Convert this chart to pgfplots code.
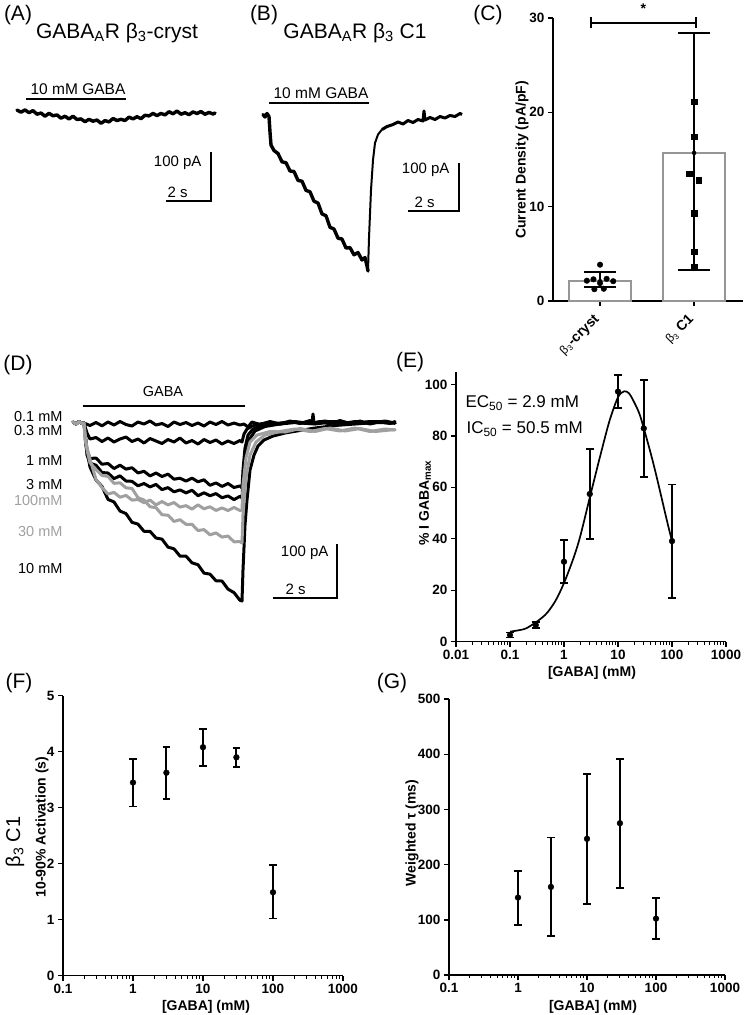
\documentclass[border=0pt]{standalone}
\usepackage{pgfplots}
\pgfplotsset{compat=1.18}
\usepackage{fontspec}
\setmainfont{Liberation Sans}
\definecolor{trgray}{RGB}{160,160,160}
\definecolor{bargray}{RGB}{150,150,150}
\newcommand{\fs}[1]{\fontsize{#1}{#1}\selectfont}

\pgfplotsset{
  gp/.style={
    scale only axis, axis lines=left,
    axis line style={-, line width=1.5pt},
    tick align=outside, major tick length=5pt, minor tick length=3pt,
    major tick style={black, line width=1.4pt},
    minor tick style={black, line width=0.9pt},
    ticklabel style={font=\fs{13.5}\bfseries},
    /pgf/number format/assume math mode=true,
    clip=false,
  },
  logx/.style={
    xtick={0.1,1,10,100,1000}, xticklabels={0.1,1,10,100,1000},
    xmin=0.1, xmax=1000,
  },
  pts/.style={
    only marks, mark=*, mark size=2.9pt, black,
    error bars/.cd, y dir=both, y explicit,
    error bar style={line width=1.8pt},
    error mark options={rotate=90, mark size=3.8pt, line width=1.8pt},
  },
  canvas/.style={
    scale only axis, hide axis, clip=false,
    width=745pt, height=1015pt,
    xmin=0, xmax=745, ymin=0, ymax=1015, y dir=reverse,
  },
  trace/.style={line width=3.4pt, line join=round, line cap=round},
  dtrace/.style={line width=3pt, line join=round, line cap=round},
}

\begin{document}
\begin{tikzpicture}[x=1pt,y=1pt]
\useasboundingbox (0,0) rectangle (745,-1015);

% ---------- traces, scale bars and free text (pixel coordinates) ----------
\begin{axis}[canvas, at={(0pt,0pt)}, anchor=north west]
% (A) beta3-cryst
\addplot[black, trace] coordinates {
(17,110) (21,112.2) (25,109.9) (29,112.7) (33,110.6) (37,114.2) (41,113.0) (45,116.2)
(49,113.3) (53,115.8) (57,114.9) (61,118.2) (65,116.2) (69,119.0) (73,116.2) (77,119.5)
(81,118.9) (85,121.7) (89,119.3) (93,121.2) (97,120.0) (101,123.3) (105,120.6) (109,121.9)
(113,118.5) (117,120.5) (121,119.3) (125,120.5) (129,117.1) (133,118.9) (137,116.7) (141,118.7)
(145,115.2) (149,115.9) (153,113.4) (157,115.6) (161,113.4) (165,114.9) (169,111.7) (173,113.8)
(177,111.0) (181,114.2) (185,112.7) (189,114.7) (193,111.9) (197,113.5) (201,111.5) (205,114.3)
(209,112.4) (213,114.0) (215,113)
};
\addplot[black, line width=1.5pt] coordinates {(26,99) (126,99)};
\addplot[black, line width=1.5pt] coordinates {(166,201) (211,201) (211,152)};

% (B) beta3 C1
\addplot[black, trace] coordinates {
(263,114.5) (265,117) (267,113.5) (269,116.5) (270,132) (271,145) (274,150.5) (278,153.5)
(282,161.8) (286,162.7) (290,171) (294,171.5) (298,180.4) (302,181.2) (306,190.3) (310,191.8)
(314,201.2) (318,203) (322,213.9) (326,215.7) (330,227.3) (334,229) (338,238.2) (342,239)
(346,248) (350,247.6) (354,254.8) (358,252.5) (362,260) (365,257.5) (367,266) (368,271)
};
\addplot[black, line width=2pt, line join=round] coordinates {
(368,271) (369,238) (371,190) (373,160) (375,143) (378,134.5) (382,129.5)
};
\addplot[black, line width=3pt, line join=round] coordinates {
(382,129.5) (387,126.5) (393,124.5)
(398,122) (403,124) (408,120.5) (413,122.5) (418,119.5) (423,121) (424,111) (425,120)
(430,117.5) (435,119.5) (440,116.5) (445,118) (450,115.5) (455,116.5) (460,113.5) (462,114.5)
};
\addplot[black, line width=1.5pt] coordinates {(269,103) (369,103)};
\addplot[black, line width=1.5pt] coordinates {(408,211) (459,211) (459,163)};

% (D) concentration series
\addplot[black, dtrace] coordinates { % 0.1 mM
(73,422) (76,424) (79,421.5) (82,423.5) (84,423) (90,425.5) (96,422.5) (102,425.8) (108,422)
(114,425) (120,421.5) (126,424.5) (132,426) (138,422) (144,424) (150,421) (156,425)
(162,423.5) (168,426.5) (174,422) (180,424.5) (186,422.5) (192,425.5) (198,423) (204,426)
(210,422) (216,424.5) (222,421.5) (228,425) (234,423) (240,425) (244,424) (248,427)
(252,422) (260,424.5) (270,421.5) (280,424) (290,421) (300,423.5) (310,420.5) (312,423)
(313,414) (314,423) (320,421.5) (330,424) (340,420.5) (350,423.5) (360,421) (370,424)
(380,421.5) (390,423.5) (395,421.5)
};
\addplot[black, dtrace] coordinates { % 0.3 mM
(73,422) (76,424) (79,421.5) (82,423.5) (84,423) (87,433) (90,439) (96,437.5) (102,441.5)
(108,438) (114,442) (120,439) (126,437) (132,441.5) (138,439) (144,443) (150,438.5)
(156,441) (162,443.5) (168,439.5) (174,442) (180,438) (186,443) (192,440.5) (198,444)
(204,439.5) (210,442.5) (216,440) (222,444) (228,441) (234,443.5) (240,440.5) (242,442)
(244,434) (247,429) (252,426) (260,424) (270,422.5) (280,424) (295,421.5) (310,423.5)
(325,421) (340,424) (355,421.5) (370,423.5) (385,421) (395,423)
};
\addplot[black, dtrace] coordinates { % 1 mM
(73,422) (76,424) (79,421.5) (82,423.5) (84,423) (87,450) (90,458.5) (96,458) (102,464.2)
(108,463.5) (114,468.5) (120,465.2) (126,469.1) (132,467.7) (138,472.9) (144,471.3)
(150,475.9) (156,473) (162,476.5) (168,474.1) (174,479.2) (180,478.2) (186,481.1)
(192,478.1) (198,481.8) (204,479.8) (210,485.3) (216,482.9) (222,486.4) (228,483.5)
(234,487.5) (240,485.9) (242,488) (243,470) (245,448) (248,435) (253,429) (262,425.5)
(275,423.5) (290,422) (310,423.5) (330,421.5) (350,423.5) (370,421.5) (395,423)
};
\addplot[black, dtrace] coordinates { % 3 mM
(73,422) (76,424) (79,421.5) (82,423.5) (84,423) (87,455) (90,463) (96,465.2) (102,472.5)
(108,473) (114,478.6) (120,475.8) (126,481) (132,481.3) (138,485.8) (144,483.5)
(150,486.9) (156,484.4) (162,489.6) (168,487.6) (174,491.8) (180,489.9) (186,492.9)
(192,490.2) (198,495.7) (204,492.8) (210,495.7) (216,493.6) (222,497.7) (228,495.9)
(234,499.6) (240,496.3) (242,498) (243,482) (245,458) (249,440) (255,431) (265,426.5)
(280,424) (295,422.5) (315,424) (335,421.5) (355,423.5) (375,421.5) (395,423)
};
\addplot[black, dtrace] coordinates { % 10 mM
(73,422) (76,424) (79,421.5) (82,423.5) (84,423) (86,445) (90,467) (96,480) (102,486.5)
(108,499.4) (114,501.9) (120,511) (126,513.6) (132,522.3) (138,524.1) (144,531.3)
(150,531.3) (156,538) (162,539.1) (168,547.1) (174,548.8) (180,556.1) (186,556.1)
(192,562.8) (198,564.7) (204,573.1) (210,574.1) (216,580.8) (222,581) (228,589.1)
(234,592.6) (240,600.3) (242,601) (243,570) (245,525) (247,500) (250,470) (254,455)
(258,446) (264,440) (273,436) (285,433) (297,431) (315,428) (335,425.5) (355,424)
(375,422.5) (395,423)
};
\addplot[trgray, dtrace] coordinates { % 100 mM
(73,422) (76,424) (79,421.5) (82,423.5) (84,423) (85,440) (90,459) (96,479.6) (102,487.5)
(108,494) (114,492.4) (120,497.2) (126,495.4) (132,500.1) (138,499.5) (144,502.7)
(150,500.1) (156,504.9) (162,501.5) (168,504.9) (174,502.5) (180,507.1) (186,505.6)
(192,509.1) (198,504.8) (204,508.8) (210,506.8) (216,510.4) (222,507.9) (228,510.5)
(234,507.4) (240,510.5) (242,510) (243,485) (246,458) (250,442) (257,435) (270,431.5)
(285,432) (300,428.5) (315,431.5) (330,428) (345,431) (360,428.5) (375,431.5) (395,429.5)
};
\addplot[trgray, dtrace] coordinates { % 30 mM
(73,422) (76,424) (79,421.5) (82,423.5) (84,423) (87,450) (90,462.8) (96,469.4) (102,475.5)
(108,476.4) (114,483.3) (120,482.8) (126,487.8) (132,488.4) (138,497.7) (144,500)
(150,506.7) (156,507.7) (162,514.7) (168,515.2) (174,521.4) (180,519.7) (186,524.3)
(192,524.3) (198,530.5) (204,529.6) (210,534.8) (216,532.9) (222,537.1) (228,536)
(234,541.8) (240,541.6) (242,543) (243,515) (246,478) (250,455) (256,442) (265,435)
(280,431.5) (295,429) (310,431.5) (325,428.5) (340,431) (355,428) (370,431.5) (385,429)
(395,430)
};
\addplot[black, line width=1.5pt] coordinates {(83,406) (245,406)};
\addplot[black, line width=1.5pt] coordinates {(273,598) (337,598) (337,544)};

% panel letters
\node[font=\fs{21}] at (18,15) {(A)};
\node[font=\fs{21}] at (264,15) {(B)};
\node[font=\fs{21}] at (488,15) {(C)};
\node[font=\fs{21}] at (18,365) {(D)};
\node[font=\fs{21}] at (410,362) {(E)};
\node[font=\fs{21}] at (19,683) {(F)};
\node[font=\fs{21}] at (392,683) {(G)};

% trace annotations
\node[font=\fs{21}] at (117,33) {GABA\textsubscript{A}R β\textsubscript{3}-cryst};
\node[font=\fs{21}] at (355,33) {GABA\textsubscript{A}R β\textsubscript{3} C1};
\node[font=\fs{15.5}] at (78,89) {10 mM GABA};
\node[font=\fs{15.5}] at (321,93) {10 mM GABA};
\node[font=\fs{15}, anchor=east] at (205,163) {100 pA};
\node[font=\fs{15}, anchor=west] at (164,192) {2 s};
\node[font=\fs{15}, anchor=east] at (453,170) {100 pA};
\node[font=\fs{15}, anchor=west] at (411,202) {2 s};
\node[font=\fs{14.5}] at (163,391) {GABA};
\node[font=\fs{14.5}, anchor=east] at (66,416) {0.1 mM};
\node[font=\fs{14.5}, anchor=east] at (66,430) {0.3 mM};
\node[font=\fs{14.5}, anchor=east] at (66,460) {1 mM};
\node[font=\fs{14.5}, anchor=east] at (66,484) {3 mM};
\node[font=\fs{14.5}, anchor=east, text=trgray] at (66,500) {100mM};
\node[font=\fs{14.5}, anchor=east, text=trgray] at (66,531) {30 mM};
\node[font=\fs{14.5}, anchor=east] at (66,568) {10 mM};
\node[font=\fs{15}, anchor=east] at (332,553) {100 pA};
\node[font=\fs{15}, anchor=west] at (282,589) {2 s};

% axis titles
\node[font=\fs{14}\bfseries, rotate=90] at (522,160) {Current Density (pA/pF)};
\node[font=\fs{14}\bfseries, rotate=90] at (425,503) {\% I GABA\textsubscript{max}};
\node[font=\fs{14}\bfseries] at (592,673) {[GABA] (mM)};
\node[font=\fs{17}, anchor=west] at (462,403) {EC\textsubscript{50} = 2.9 mM};
\node[font=\fs{17}, anchor=west] at (463,429) {IC\textsubscript{50} = 50.5 mM};
\node[font=\fs{20}, rotate=90] at (15,842) {β\textsubscript{3} C1};
\node[font=\fs{14}\bfseries, rotate=90] at (42,827) {10-90\% Activation (s)};
\node[font=\fs{14}\bfseries] at (206,1007) {[GABA] (mM)};
\node[font=\fs{14}\bfseries, rotate=90] at (412,833) {Weighted τ (ms)};
\node[font=\fs{14}\bfseries] at (593,1007) {[GABA] (mM)};
\end{axis}

% ---------- (C) current density ----------
\begin{axis}[gp, at={(553pt,-301pt)}, anchor=south west,
  width=190pt, height=283pt,
  xmin=-0.5, xmax=1.52, ymin=0, ymax=30,
  xtick={0,1}, ytick={0,10,20,30},
  xticklabels={{\mdseries\fs{12}β\textsubscript{3}}-cryst, {\mdseries\fs{12}β\textsubscript{3}} C1},
  xticklabel style={rotate=45, anchor=east, font=\fs{14}\bfseries},
  xticklabel shift=9pt,
]
\addplot[ybar, bar width=62pt, draw=bargray, fill=white, line width=2pt]
  coordinates {(0,2.1) (1,15.7)};
\addplot[only marks, mark=*, mark size=2.8pt, black] coordinates {
(0,3.85) (-0.14,2.15) (-0.07,2.3) (0.07,2.35) (0.14,2.1) (0,1.9) (-0.06,1.25) (0.04,1.3)
};
\addplot[black, line width=2.4pt] coordinates {(1,3.3) (1,28.4)};
\addplot[only marks, mark=square*, mark size=2.7pt, black] coordinates {
(1,21.1) (1,17.4) (0.95,13.5) (1.05,12.8) (1,9.3) (1,5.2) (1,3.6)
};
\addplot[only marks, mark=none, black,
  error bars/.cd, y dir=both, y explicit,
  error bar style={line width=2.4pt},
  error mark options={rotate=90, mark size=16pt, line width=2.4pt}]
  coordinates {(0,2.1) += (0,1.0) -= (0,0.6) (1,15.7) += (0,12.7) -= (0,12.4)};
\addplot[black, line width=1.8pt] coordinates {
(-0.096,28.9) (-0.096,30.1) (-0.096,29.5) (1.02,29.5) (1.02,30.1) (1.02,28.9)
};
\node[font=\fs{14}\bfseries] at (0.46,31.0) {*};
\end{axis}

% ---------- (E) dose response ----------
\begin{axis}[gp, xmode=log, at={(456pt,-641.7pt)}, anchor=south west,
  width=270pt, height=269.7pt,
  xmin=0.01, xmax=1000,
  xtick={0.01,0.1,1,10,100,1000}, xticklabels={0.01,0.1,1,10,100,1000},
  ymin=0, ymax=104.8, ytick={0,20,40,60,80,100},
]
\addplot[black, line width=1.7pt, smooth] coordinates {
(0.1,3.9) (0.15,4.5) (0.2,5.2) (0.3,7.5) (0.4,9.5) (0.5,11.5) (0.7,16) (1,22.8)
(1.5,32.5) (2,41) (3,56) (4,66.5) (5,74.5) (7,86) (10,95) (13,97.3) (16,96.5)
(20,93) (25,88.5) (30,83) (40,73.5) (50,65.5) (60,58.5) (70,52.5) (85,45) (100,39.1)
};
\addplot[pts] coordinates {
(0.1,2.6) += (0,1.0) -= (0,1.0)
(0.3,6.5) += (0,1.3) -= (0,1.3)
(1,31.1) += (0,8.4) -= (0,8.4)
(3,57.4) += (0,17.5) -= (0,17.5)
(10,97.2) += (0,6.3) -= (0,6.3)
(30,82.9) += (0,18.8) -= (0,18.8)
(100,39.1) += (0,22.0) -= (0,22.0)
};
\end{axis}

% ---------- (F) activation time ----------
\begin{axis}[gp, xmode=log, logx, at={(63pt,-975.7pt)}, anchor=south west,
  width=280pt, height=280pt, ymin=0, ymax=5, ytick={0,1,2,3,4,5},
]
\addplot[pts] coordinates {
(1,3.45) += (0,0.425) -= (0,0.43)
(3,3.625) += (0,0.465) -= (0,0.47)
(10,4.08) += (0,0.32) -= (0,0.34)
(30,3.90) += (0,0.17) -= (0,0.18)
(100,1.49) += (0,0.48) -= (0,0.47)
};
\end{axis}

% ---------- (G) weighted tau ----------
\begin{axis}[gp, xmode=log, logx, at={(449pt,-975pt)}, anchor=south west,
  width=276pt, height=276pt, ymin=0, ymax=500, ytick={0,100,200,300,400,500},
]
\addplot[pts] coordinates {
(1,140.3) += (0,48.3) -= (0,49.6)
(3,159.6) += (0,89.4) -= (0,88.9)
(10,246.7) += (0,117.9) -= (0,117.9)
(30,275) += (0,116.8) -= (0,117.2)
(100,102.2) += (0,36.8) -= (0,37.5)
};
\end{axis}
\end{tikzpicture}
\end{document}
